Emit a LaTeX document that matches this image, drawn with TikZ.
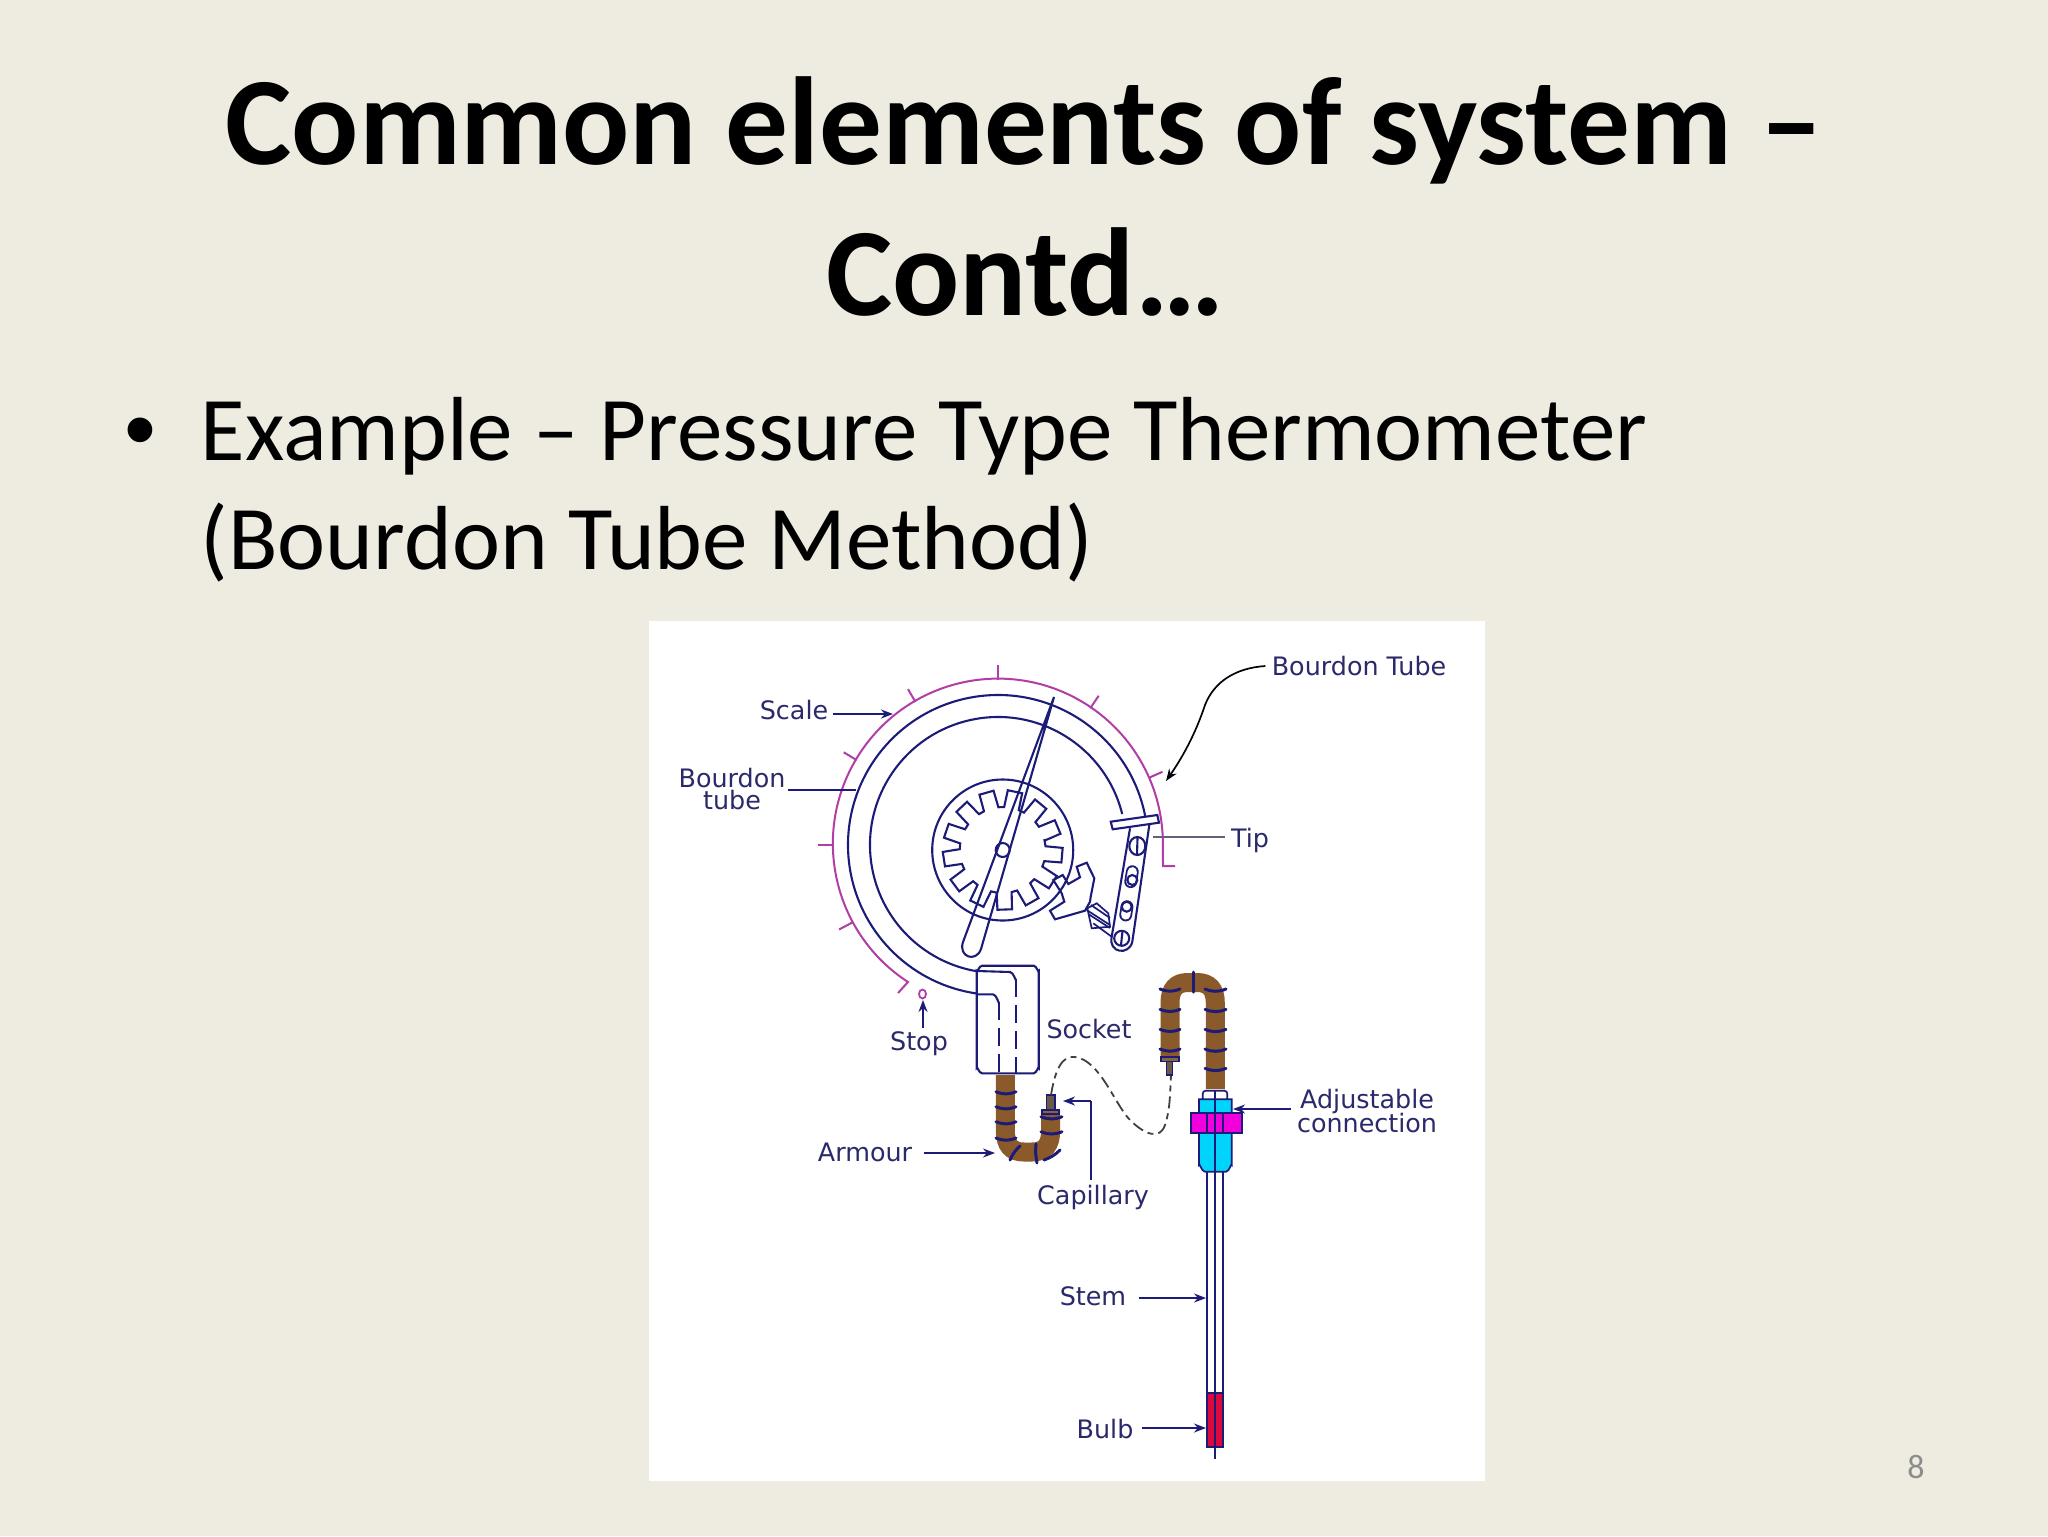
\documentclass[tikz,border=0pt]{standalone}
\usepackage{fontspec}
\setmainfont{Carlito}
\newfontfamily\lblfont{DejaVu Sans}
\newfontfamily\bulfont{Liberation Sans}
\usetikzlibrary{arrows.meta,calc}
\definecolor{bgc}{HTML}{EEECE1}
\definecolor{navy}{HTML}{1C1C78}
\definecolor{lblc}{HTML}{2A2A6A}
\definecolor{scalec}{HTML}{B03EA4}
\definecolor{brownc}{HTML}{8A5A2B}
\definecolor{stubc}{HTML}{6B5A48}
\definecolor{cyanc}{HTML}{00D4FA}
\definecolor{magc}{HTML}{F000DC}
\definecolor{redc}{HTML}{DC0A3C}
\tikzset{
  lbl/.style={font=\lblfont\fontsize{12.7}{11}\selectfont,text=lblc,inner sep=0pt,align=center},
  part/.style={draw=navy,line width=1.05pt},
  thin part/.style={draw=navy,line width=0.85pt},
  scale line/.style={draw=scalec,line width=1pt},
  lead/.style={draw=navy,line width=0.85pt,-{Stealth[length=6pt,width=4.5pt]}},
  plain lead/.style={draw=navy,line width=0.85pt},
  armour/.style={draw=brownc,line width=9.5pt,line cap=butt},
  band/.style={draw=navy,line width=1.5pt,line cap=round},
  slot/.style={draw=navy,line width=0.9pt,double=white,double distance=4.6pt,line cap=round},
  slide title/.style={font=\fontsize{62.6}{70}\selectfont\bfseries,text=black,inner sep=0pt},
  slide body/.style={font=\fontsize{45.5}{50}\selectfont,text=black,inner sep=0pt}
}
\begin{document}
\begin{tikzpicture}[x=0.5pt,y=-0.5pt]
\useasboundingbox (0,0) rectangle (2048,1536);
\fill[bgc] (0,0) rectangle (2048,1536);
\node[slide title,anchor=base] (t1) at (1024,164.5) {Common elements of system –};
\node[slide title,anchor=base] (t2) at (1025,315.5) {Contd…};
\node[slide body,anchor=base] (bul) at (140,460) {\bulfont •};
\node[slide body,anchor=base west] (b1) at (200.5,460) {Example – Pressure Type Thermometer};
\node[slide body,anchor=base west] (b2) at (200.5,569) {(Bourdon Tube Method)};
\node[font=\fontsize{17}{20}\selectfont,text=black!45,inner sep=0pt] (num) at (1916,1467) {8};
\fill[white] (649,621) rectangle (1485,1481);

% Scale
\draw[scale line] (898,993) -- (908,982) arc[start angle=123,end angle=360,radius=165] -- (1163,866) -- (1175,866);
\foreach \a in {336,304,270,240,211,180,152}
  \draw[scale line] (998,845) ++(\a:165) -- ++(\a:15);

% Bourdon tube
\draw[part] (998,845) ++(-10.8:150) arc[start angle=-10.8,end angle=-262,radius=150];
\draw[part] (998,845) ++(-14:128) arc[start angle=-14,end angle=-260.5,radius=128];

% Gear
\draw[part] (1002.7,850) circle[radius=70.5];
\begin{scope}[shift={(1002.7,850)}]
\draw[part] (-14.69:43)
  \foreach \i [evaluate=\i as \a using 5+\i*27.69] in {0,...,12} {
     -- (\a-10:43) -- (\a-7:60) -- (\a+7:60) -- (\a+10:43) }
  -- cycle;
\end{scope}

% Pointer
\draw[part] (1054,697) -- (963,942) .. controls (958,957) and (976,963) .. (981,949) -- cycle;
\draw[part] (1002.7,850) circle[radius=7];

% Tip bar
\draw[part] (1110.7,821.7) -- (1157.3,815) -- (1159,822.7) -- (1112.7,829.3) -- cycle;

% Lever
\draw[part] (1130,828.3) -- (1111.7,936.7) .. controls (1108,953) and (1129,956) .. (1132.3,941.7) -- (1149.3,825);
\draw[part] (1137.3,846) ellipse[x radius=8,y radius=9];
\draw[part] (1137.5,838) -- (1137,854);
\draw[slot] (1132.3,871.7) -- (1130.7,881.7);
\draw[part] (1132.3,880) circle[radius=5];
\draw[slot] (1127,906.7) -- (1125.7,915);
\draw[part] (1126.7,906.7) circle[radius=5];
\draw[part] (1121.7,938.3) circle[radius=7.5];
\draw[part] (1122.5,931) -- (1121,945);

% Sector
\draw[part] (1053.3,880) -- (1062.7,875) -- (1068.3,884) -- (1080,877.3) -- (1076.7,866.7) -- (1086.7,862.7) -- (1094.3,878.3) -- (1090.7,896.7) -- (1090,901.7) -- (1085,910.7) -- (1055,919.3) -- (1050,910.7) -- (1064.3,901.7) -- (1061.7,893.3) -- cycle;
% Link
\draw[thin part] (1087.3,908.3) -- (1096.7,903.3) -- (1108.3,913.3) -- (1110,926.7) -- (1091.7,928.3) -- cycle;
\draw[thin part] (1086.7,910) -- (1110,925);
\draw[thin part] (1088.3,914) -- (1110,928);
\draw[thin part] (1091,905) -- (1110,918);
\draw[thin part] (1093.3,923.3) -- (1111.7,936.7);

% Socket
\draw[part] (982,965.7) -- (1033.7,965.7) to[out=0,in=-90] (1038.7,971) -- (1038.7,1068) to[out=90,in=0] (1033.7,1073.3) -- (982,1073.3) to[out=180,in=90] (976.7,1068) -- (976.7,971) to[out=-90,in=180] cycle;
\draw[part] (977,994.3) -- (993,994.3) to[out=0,in=-90] (999,1002);
\draw[part,dash pattern=on 9pt off 4pt] (999,1002) -- (999,1073);
\draw[part] (977,971) -- (1010,972) to[out=0,in=-90] (1016,979);
\draw[part,dash pattern=on 9pt off 4pt] (1016,979) -- (1016,1073);

% Left armour
\draw[armour] (1005.3,1075) -- (1005.3,1130) .. controls (1005.3,1145) and (1011,1152) .. (1024,1152) -- (1032,1152) .. controls (1045,1152) and (1050.7,1145) .. (1050.7,1130) -- (1050.7,1110);
\foreach \y in {1091.7,1106.7,1121.7,1138}
  \draw[band] (996,\y) to[bend right=22] (1016,\y);
\foreach \y in {1116.7,1131.7}
  \draw[band] (1041,\y) to[bend right=22] (1062,\y);
\draw[band] (1010,1160) to[bend left=12] (1020,1146);
\draw[band] (1037,1163) to[bend left=8] (1036,1144);
\draw[band] (1044,1160) to[bend right=12] (1060,1150);
\draw[draw=navy,fill=brownc!70!gray,line width=0.7pt] (1042,1110) rectangle (1059,1114);
\draw[draw=navy,fill=stubc,line width=0.7pt] (1046.7,1095) rectangle (1055,1109.5);

% Capillary
\draw[black!75,line width=0.9pt,dash pattern=on 6pt off 2.5pt on 3pt off 2.5pt] (1051,1095) .. controls (1055,1070) and (1062,1055) .. (1075,1057) .. controls (1100,1060) and (1115,1105) .. (1130,1120) .. controls (1145,1135) and (1160,1140) .. (1165,1125) .. controls (1170,1110) and (1170,1095) .. (1171,1075);

% Right armour
\draw[armour] (1170,1060) -- (1170,1003) .. controls (1170,989) and (1176,982.5) .. (1188,982.5) -- (1197,982.5) .. controls (1209,982.5) and (1215.3,989) .. (1215.3,1003) -- (1215.3,1089);
\foreach \y in {989,1009.3,1029.3,1049}
  \draw[band] (1160,\y) to[bend right=22] (1180,\y);
\foreach \y in {989,1009.3,1029.3,1049,1068.3}
  \draw[band] (1205,\y) to[bend right=22] (1226,\y);
\draw[band] (1193.5,972) -- (1193.5,992);
\draw[draw=navy,fill=brownc!70!gray,line width=0.7pt] (1161,1057) rectangle (1179,1061.5);
\draw[draw=navy,fill=stubc,line width=0.7pt] (1166.7,1061.5) rectangle (1172.7,1075);

% Connection and stem
\draw[thin part,fill=white,rounded corners=1.5pt] (1202.7,1099.3) -- (1202.7,1090.7) -- (1227.3,1090.7) -- (1227.3,1099.3);
\draw[thin part] (1215,1090.7) -- (1215,1099.3);
\draw[thin part,fill=cyanc] (1199,1099.3) -- (1199,1165) to[out=90,in=180] (1205,1171.7) -- (1226,1171.7) to[out=0,in=90] (1231.7,1165) -- (1231.7,1099.3) -- cycle;
\draw[thin part,fill=magc] (1190.7,1113.3) rectangle (1242,1133.3);
\draw[thin part] (1207,1113.3) -- (1207,1133.3);
\draw[thin part] (1223.3,1113.3) -- (1223.3,1133.3);
\draw[thin part] (1215,1099.3) -- (1215,1459);
\draw[thin part] (1207,1171.7) -- (1207,1393.3);
\draw[thin part] (1223.3,1171.7) -- (1223.3,1393.3);
\draw[thin part,fill=redc] (1207,1393.3) rectangle (1223.3,1446.7);
\draw[thin part] (1215,1393.3) -- (1215,1459);

% Stop
\draw[draw=scalec,line width=0.9pt] (922.5,994) ellipse[x radius=3.5,y radius=4.5];

% Labels
\node[lbl] (lbt) at (1359,666) {Bourdon Tube};
\node[lbl] (lsc) at (794,710) {Scale};
\node[lbl] (lbo) at (732,789) {Bourdon\\tube};
\node[lbl] (ltp) at (1250,840) {Tip};
\node[lbl] (lst) at (919,1044) {Stop};
\node[lbl] (lso) at (1089,1029) {Socket};
\node[lbl] (lar) at (865,1152) {Armour};
\node[lbl] (lca) at (1093,1197) {Capillary};
\node[lbl] (lad) at (1367,1111) {Adjustable\\[-1.2pt]connection};
\node[lbl] (lse) at (1093,1296) {Stem};
\node[lbl] (lbu) at (1105,1429) {Bulb};

% Leader targets
\coordinate (tbt) at (1166,781);
\coordinate (tsc) at (893,714);
\coordinate (tbo) at (856,790);
\coordinate (ttp) at (1153,837);
\coordinate (tst) at (923,1000);
\coordinate (tar) at (995,1153);
\coordinate (tcb) at (1091,1101);
\coordinate (tca) at (1063,1101);
\coordinate (tad) at (1233,1109);
\coordinate (tse) at (1206,1298);
\coordinate (tbu) at (1206,1428);

\draw[lead,black!90!navy] ([xshift=-3pt]lbt.west) .. controls (1235,668) and (1214,682) .. (1205,705) .. controls (1195,735) and (1182,758) .. (tbt);
\draw[lead] ([xshift=2pt]lsc.east |- tsc) -- (tsc);
\draw[plain lead] ([xshift=1pt]lbo.east |- tbo) -- (tbo);
\draw[draw=gray!70!navy,line width=1.1pt] ([xshift=-3pt]ltp.west |- ttp) -- (ttp);
\draw[lead] ([yshift=2pt]lst.north -| tst) -- (tst);
\draw[lead] ([xshift=5.5pt]lar.east |- tar) -- (tar);
\draw[plain lead] ([yshift=2pt]lca.north -| tcb) -- (tcb);
\draw[lead] (tcb) -- (tca);
\draw[lead] ([xshift=-3pt]lad.west |- tad) -- (tad);
\draw[lead] ([xshift=6pt]lse.east |- tse) -- (tse);
\draw[lead] ([xshift=4pt]lbu.east |- tbu) -- (tbu);
\end{tikzpicture}
\end{document}
